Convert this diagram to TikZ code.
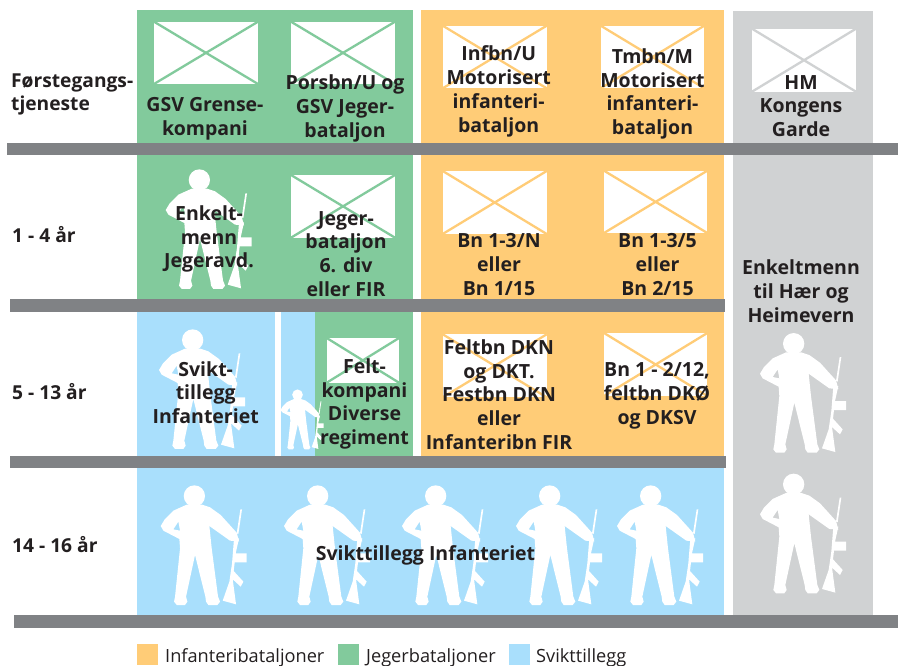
\documentclass[tikz,border=0pt]{standalone}
\usepackage{fontspec}
\setmainfont{Open Sans}
\definecolor{grn}{HTML}{82CA9C}
\definecolor{org}{HTML}{FFCC77}
\definecolor{blu}{HTML}{A9DFFC}
\definecolor{gry}{HTML}{D0D2D3}
\definecolor{bar}{HTML}{808285}
\definecolor{ink}{HTML}{231F20}
\tikzset{
  lab/.style={font=\fontsize{19.5}{23.8}\selectfont\bfseries,text=ink,align=center,inner sep=0pt},
  side/.style={font=\fontsize{19.2}{23.8}\selectfont\bfseries,text=ink,align=left,anchor=west,inner sep=0pt},
  leg/.style={font=\fontsize{18.2}{20}\selectfont,text=ink,anchor=base west,inner sep=0pt}
}
\newcommand{\flagbox}[5]{%
  \fill[white] (#1,#2) rectangle (#3,#4);
  \draw[#5,line width=2.3pt] (#1,#2)--(#3,#4) (#1,#4)--(#3,#2);
}
% x y of top left corner, scale
\newcommand{\soldierat}[3]{%
\begin{scope}[shift={(#1,#2)},scale=#3/3,shift={(-92,-45)},transform shape]
  \fill[white,even odd rule]
    (170,104)--(130,122)--(104,148)--(92,168)--(100,182)--(148,207)--(150,235)--(135,380)--(132,395)--(140,405)--(165,405)--(172,395)--(168,380)--(195,255)--(226,380)--(228,395)--(235,405)--(262,405)--(270,395)--(264,380)--(245,235)--(238,168)--(300,212)--(327,214)--(320,188)--(272,135)--(240,112)--(216,104)--cycle
    (145,155)--(130,178)--(150,182)--cycle;
  \fill[white] (193,78) circle[radius=32];
  \fill[white] (336,118)--(331,118)--(320,190)--(325,192)--cycle;
  \fill[white] (327,205)--(317,250)--(350,250)--(350,277)--(314,277)--(311,303)--(340,335)--(332,350)--(308,328)--(318,403)--(278,392)--(298,335)--(306,280)--(312,205)--cycle;
\end{scope}}
\begin{document}
\begin{tikzpicture}[x=1pt,y=-1pt]
\useasboundingbox (0,0) rectangle (898,666);
\fill[white] (0,0) rectangle (898,666);
% panels
\fill[grn] (137,10) rectangle (412.7,300);
\fill[org] (421,10) rectangle (724,457);
\fill[gry] (733,11) rectangle (873,616);
\fill[blu] (137,311) rectangle (275,457);
\fill[blu] (281,311) rectangle (315,457);
\fill[grn] (315,311) rectangle (412.7,457);
\fill[blu] (137,467) rectangle (724,616);
% flags
\flagbox{154}{21.7}{258}{84}{grn}
\flagbox{291}{21.7}{395}{84}{grn}
\flagbox{291}{175}{395}{237.7}{grn}
\flagbox{326.7}{338}{399}{382.7}{grn}
\flagbox{442.7}{25.7}{546.7}{88.3}{org}
\flagbox{600.7}{25.7}{704.3}{88.3}{org}
\flagbox{442.7}{171}{546.7}{234}{org}
\flagbox{604}{170.7}{707.3}{233}{org}
\flagbox{442.7}{334.3}{546.7}{397.3}{org}
\flagbox{604}{333}{707.3}{396}{org}
\flagbox{752}{28.7}{856}{91.7}{gry}
% soldiers
\soldierat{165.7}{169}{1}
\soldierat{159}{329}{1}
\soldierat{280.7}{389.3}{0.5}
\soldierat{160.7}{485}{1}
\soldierat{284}{485}{1}
\soldierat{402}{485}{1}
\soldierat{516}{485}{1}
\soldierat{617}{485}{1}
\soldierat{760}{332.7}{1}
\soldierat{760}{473.3}{1}
% bars
\fill[bar] (7,143) rectangle (898,155);
\fill[bar] (10,299) rectangle (725,312);
\fill[bar] (10,456) rectangle (726,468);
\fill[bar] (14,615) rectangle (898,628);
% texts
\node[lab] (t1) at (205,119) {GSV Grense-\\kompani};
\node[lab] (t2) at (345,108.5) {Porsbn/U og\\GSV Jeger-\\bataljon};
\node[lab] (t3) at (498.7,91.5) {Infbn/U\\Motorisert\\infanteri-\\bataljon};
\node[lab] (t4) at (652.5,94) {Tmbn/M\\Motorisert\\infanteri-\\bataljon};
\node[lab] (t5) at (801,106) {HM\\Kongens\\Garde};
\node[lab] (t6) at (209,239) {Enkelt-\\menn\\Jegeravd.};
\node[lab] (t7) at (346,254) {Jeger-\\bataljon\\6. div\\eller FIR};
\node[lab] (t8) at (499,264.5) {Bn 1-3/N\\eller\\Bn 1/15};
\node[lab] (t9) at (657.5,264.5) {Bn 1-3/5\\eller\\Bn 2/15};
\node[lab] (t10) at (205.7,392.5) {Svikt-\\tillegg\\Infanteriet};
\node[lab] (t11) at (364.5,404) {Felt-\\kompani\\Diverse\\regiment};
\node[lab] (t12) at (499,394.5) {Feltbn DKN\\og DKT.\\Festbn DKN\\eller\\Infanteribn FIR};
\node[lab] (t13) at (657,396) {Bn 1 - 2/12,\\feltbn DKØ\\og DKSV};
\node[lab] (t14) at (425.5,555) {Svikttillegg Infanteriet};
\node[lab] (t15) at (801,291) {Enkeltmenn\\til Hær og\\Heimevern};
\node[side] (s1) at (11,94.5) {Førstegangs-\\tjeneste};
\node[side] (s2) at (12,235) {1 - 4 år};
\node[side] (s3) at (12,392) {5 - 13 år};
\node[side] (s4) at (12,545) {14 - 16 år};
% legend
\fill[org] (137,644) rectangle (158,665);
\fill[grn] (338,644) rectangle (359,665);
\fill[blu] (509,644) rectangle (530,665);
\node[leg] (l1) at (165,662) {Infanteribataljoner};
\node[leg] (l2) at (366,662) {Jegerbataljoner};
\node[leg] (l3) at (536,662) {Svikttillegg};
\end{tikzpicture}
\end{document}
